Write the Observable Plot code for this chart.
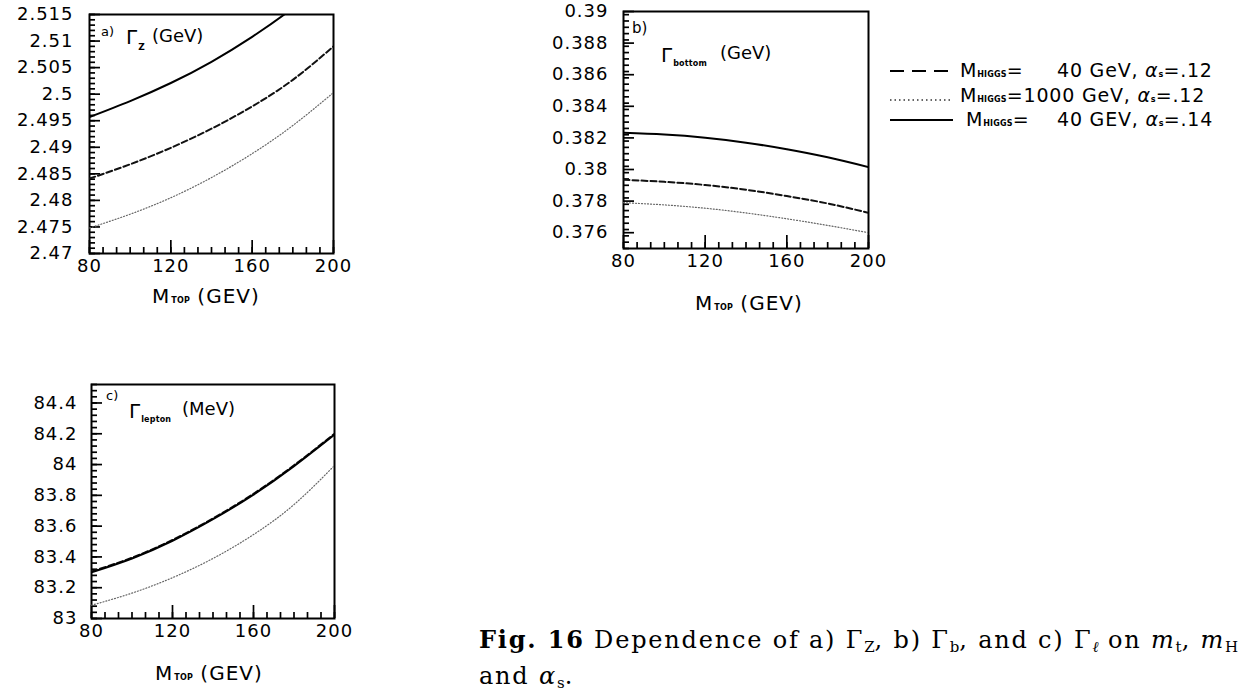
<!DOCTYPE html>
<html><head><meta charset="utf-8">
<script src="https://cdn.jsdelivr.net/npm/d3@7"></script>
<script src="https://cdn.jsdelivr.net/npm/@observablehq/plot@0.6"></script>
<style>
body{margin:0;background:#fff;}
#root{position:relative;width:1239px;height:694px;overflow:hidden;font-family:"DejaVu Sans",sans-serif;color:#000;}
.abs{position:absolute;white-space:nowrap;line-height:1;}
.sub{font-size:8px;font-weight:bold;letter-spacing:0.2px;}
.cap{font-family:"DejaVu Serif",serif;font-size:24px;letter-spacing:1.8px;}
.cap sub{font-size:15px;vertical-align:-4px;letter-spacing:0;}
.leg{font-size:19px;letter-spacing:0.8px;}
.xt{font-size:20px;letter-spacing:1px;}
</style></head><body><div id="root"></div>
<script>
// ---- data ----
const mTop = [80, 100, 120, 140, 160, 180, 200];
// a) Gamma_Z (GeV)
const gzDashed = [2.4841, 2.4868, 2.4899, 2.4935, 2.4977, 2.5027, 2.5090];   // M_H=40, as=.12
const gzDotted = [2.4748, 2.4774, 2.4805, 2.4843, 2.4888, 2.4941, 2.5003];   // M_H=1000, as=.12
const gzSolid  = [2.4957, 2.4987, 2.5021, 2.5061, 2.5108, 2.5162, 2.5224];   // M_H=40, as=.14
// b) Gamma_bottom (GeV)
const gbDashed = [0.37935, 0.37922, 0.37902, 0.37872, 0.37832, 0.37785, 0.37726];
const gbDotted = [0.37790, 0.37776, 0.37755, 0.37725, 0.37688, 0.37646, 0.37600];
const gbSolid  = [0.38232, 0.38221, 0.38201, 0.38170, 0.38128, 0.38077, 0.38015];
// c) Gamma_lepton (MeV)
const glDashed = [83.305, 83.395, 83.510, 83.650, 83.810, 83.995, 84.200];
const glDotted = [83.086, 83.165, 83.265, 83.390, 83.545, 83.740, 83.994];
const glSolid  = [83.300, 83.390, 83.505, 83.645, 83.805, 83.990, 84.195];
// tick labels
const xTicks = [80, 120, 160, 200];
const yTicksA = [2.47, 2.475, 2.48, 2.485, 2.49, 2.495, 2.5, 2.505, 2.51, 2.515];
const yTicksB = [0.376, 0.378, 0.38, 0.382, 0.384, 0.386, 0.388, 0.39];
const yTicksC = [83, 83.2, 83.4, 83.6, 83.8, 84, 84.2, 84.4];
const seriesKeys = ["dashed", "dotted", "solid"];

const styles = {
  dashed: {stroke: "#111", strokeWidth: 2, strokeDasharray: "6,3"},
  dotted: {stroke: "#666", strokeWidth: 1.2, strokeDasharray: "1,2"},
  solid:  {stroke: "#000", strokeWidth: 2, strokeDasharray: null}
};

const root = document.getElementById("root");
function el(html, css, cls) {
  const d = document.createElement("div");
  d.className = "abs" + (cls ? " " + cls : "");
  d.innerHTML = html;
  Object.assign(d.style, css);
  root.appendChild(d);
  return d;
}

function panel({series, yDomain, yTicks, yMinorStep, fx, fy, fw, fh, gap}) {
  const mL = 100, mT = 20, mR = 30, mB = 40;
  const rows = [];
  seriesKeys.forEach((k, i) => series[i].forEach((v, j) => rows.push({key: k, x: mTop[j], y: v})));
  const xMinor = d3.range(80, 200.01, 40 / 6);
  const yMinor = d3.range(yDomain[0], yDomain[1] + yMinorStep / 2, yMinorStep);
  const fmt = d => String(+(+d).toFixed(4));
  const tickStyle = {stroke: "#000", strokeWidth: 1.7};
  const chart = Plot.plot({
    width: mL + fw + mR, height: mT + fh + mB,
    marginLeft: mL, marginTop: mT, marginRight: mR, marginBottom: mB,
    x: {domain: [80, 200]},
    y: {domain: yDomain},
    style: {fontFamily: "DejaVu Sans", fontSize: "18px", letterSpacing: "1px", color: "#000", background: "transparent", overflow: "visible"},
    marks: [
      Plot.frame({stroke: "#000", strokeWidth: 2}),
      Plot.axisX({ticks: xTicks, tickSize: 0, tickPadding: 6, label: null, tickFormat: d => String(d)}),
      Plot.axisY({ticks: yTicks, tickSize: 0, tickPadding: gap - 1, label: null, tickFormat: fmt}),
      // inward tick marks: an axis with ticks pointing out, shifted inside by its own length
      Plot.axisY({ticks: yMinor, tickSize: 6, dx: 6, tickFormat: () => "", label: null, ...tickStyle}),
      Plot.axisY({ticks: yTicks, tickSize: 11, dx: 11, tickFormat: () => "", label: null, ...tickStyle}),
      Plot.axisX({ticks: xMinor, tickSize: 6, dy: -6, tickFormat: () => "", label: null, ...tickStyle}),
      Plot.axisX({ticks: xTicks, tickSize: 13, dy: -13, tickFormat: () => "", label: null, ...tickStyle}),
      ...seriesKeys.map(k => Plot.line(rows.filter(r => r.key === k), {x: "x", y: "y", curve: "natural", clip: true, ...styles[k]}))
    ]
  });
  chart.style.position = "absolute";
  chart.style.left = (fx - mL) + "px";
  chart.style.top = (fy - mT) + "px";
  root.appendChild(chart);
}

panel({series: [gzDashed, gzDotted, gzSolid], yDomain: [2.47, 2.515], yTicks: yTicksA, yMinorStep: 0.001,
       fx: 89, fy: 14, fw: 244, fh: 239, gap: 17});
panel({series: [gbDashed, gbDotted, gbSolid], yDomain: [0.375, 0.39], yTicks: yTicksB, yMinorStep: 0.0004,
       fx: 623, fy: 11, fw: 245, fh: 237, gap: 16});
panel({series: [glDashed, glDotted, glSolid], yDomain: [83, 84.52], yTicks: yTicksC, yMinorStep: 0.04,
       fx: 91, fy: 384, fw: 243, fh: 234, gap: 15});

// in-panel titles
el('a)', {left: "101px", top: "25px", fontSize: "13px"});
el('Γ<span class="sub" style="font-size:9px;position:relative;top:6px;margin-left:1px">Z</span>', {left: "126px", top: "27px", fontSize: "20px"});
el('(GeV)', {left: "152px", top: "27px", fontSize: "18px"});

el('b)', {left: "632px", top: "21px", fontSize: "15px"});
el('Γ<span class="sub" style="position:relative;top:4px;margin-left:1px">bottom</span>', {left: "661px", top: "45px", fontSize: "20px"});
el('(GeV)', {left: "720px", top: "44px", fontSize: "18px"});

el('c)', {left: "106px", top: "389px", fontSize: "13px"});
el('Γ<span class="sub" style="position:relative;top:4px;margin-left:1px">lepton</span>', {left: "129px", top: "401px", fontSize: "20px"});
el('(MeV)', {left: "182px", top: "400px", fontSize: "18px"});

// x-axis titles
const xTitle = 'M<span class="sub" style="margin-left:1px">TOP</span> (GEV)';
el(xTitle, {left: "152px", top: "286px"}, "xt");
el(xTitle, {left: "695px", top: "293px"}, "xt");
el(xTitle, {left: "155px", top: "663px"}, "xt");

// legend
const legendLabels = [
  ['M<span class="sub">HIGGS</span>=', '40 GeV, <i>α</i><span class="sub">s</span>=.12'],
  ['M<span class="sub">HIGGS</span>=1000 GeV, <i>α</i><span class="sub">s</span>=.12', ''],
  ['M<span class="sub">HIGGS</span>=', '40 GEV, <i>α</i><span class="sub">s</span>=.14']
];
const legendY = [71, 96, 120];
const ns = "http://www.w3.org/2000/svg";
const lsvg = document.createElementNS(ns, "svg");
lsvg.setAttribute("width", 80); lsvg.setAttribute("height", 90);
Object.assign(lsvg.style, {position: "absolute", left: "880px", top: "50px"});
const legendDash = {dashed: "14,8", dotted: "1.5,3", solid: null};
seriesKeys.forEach((k, i) => {
  const ln = document.createElementNS(ns, "line");
  const ly = legendY[i] - 50 + (k === "dotted" ? 4 : 0);
  ln.setAttribute("x1", 10); ln.setAttribute("x2", 73);
  ln.setAttribute("y1", ly); ln.setAttribute("y2", ly);
  ln.setAttribute("stroke", k === "dotted" ? "#333" : "#000");
  ln.setAttribute("stroke-width", k === "dotted" ? 1.3 : 2);
  if (legendDash[k]) ln.setAttribute("stroke-dasharray", legendDash[k]);
  lsvg.appendChild(ln);
  el(legendLabels[i][0], {left: (k === "solid" ? 966 : 960) + "px", top: (legendY[i] - 10) + "px"}, "leg");
  if (legendLabels[i][1]) el(legendLabels[i][1], {left: "1057px", top: (legendY[i] - 10) + "px"}, "leg");
});
root.appendChild(lsvg);

// caption
el('<b>Fig. 16</b> Dependence of a) Γ<sub>Z</sub>, b) Γ<sub>b</sub>, and c) Γ<sub><i>ℓ</i></sub> on <i>m</i><sub>t</sub>, <i>m</i><sub>H</sub>',
   {left: "479px", top: "628px"}, "cap");
el('and <i>α</i><sub>s</sub>.', {left: "479px", top: "664px"}, "cap");
</script></body></html>
